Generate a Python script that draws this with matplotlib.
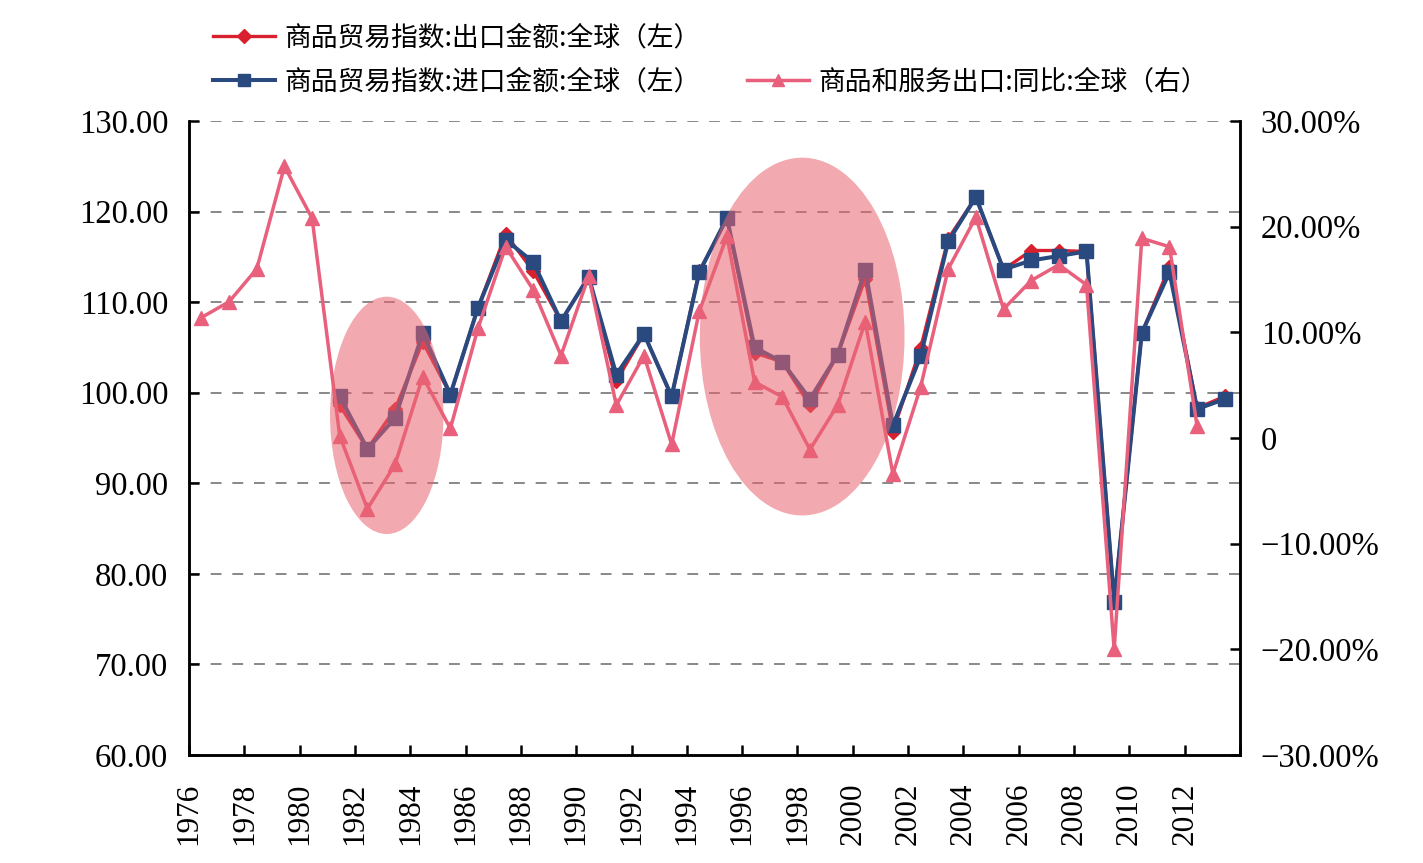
import matplotlib
matplotlib.use('Agg')
import matplotlib.pyplot as plt
from matplotlib.patches import Ellipse
from matplotlib.lines import Line2D
from matplotlib.ticker import FuncFormatter
import numpy as np

plt.rcParams['font.family'] = ['Liberation Serif', 'Noto Sans CJK SC']

# 数据
growth_years = list(range(1976, 2013))
growth = [11.4, 12.9, 16.0, 25.7, 20.8,
          0.2, -6.7, -2.5, 5.8, 0.9,
          10.4, 18.1, 14.0, 7.8, 15.3,
          3.1, 7.8, -0.6, 12.0, 19.1,
          5.3, 3.9, -1.1, 3.1, 11.0,
          -3.4, 4.8, 16.0, 20.9, 12.2,
          14.9, 16.4, 14.5, -20.0, 18.9,
          18.1, 1.1]

index_years = list(range(1981, 2014))
export_index = [98.6, 93.8, 98.2, 105.6, 99.8, 109.4, 117.5, 113.4, 107.9, 112.8,
                101.3, 106.5, 99.6, 113.4, 119.2, 104.4, 103.4, 98.6, 104.2, 112.6,
                95.7, 104.9, 117.0, 121.6, 113.6, 115.7, 115.7, 115.6, 77.0, 106.6,
                113.9, 98.3, 99.6]
import_index = [99.6, 93.8, 97.2, 106.6, 99.8, 109.4, 116.9, 114.4, 107.9, 112.8,
                102.0, 106.5, 99.6, 113.3, 119.3, 105.0, 103.4, 99.3, 104.2, 113.6,
                96.4, 104.0, 116.7, 121.6, 113.6, 114.6, 115.1, 115.6, 76.9, 106.6,
                113.3, 98.2, 99.3]

labels = ['商品贸易指数:出口金额:全球（左）',
          '商品贸易指数:进口金额:全球（左）',
          '商品和服务出口:同比:全球（右）']
xtick_years = list(range(1976, 2013, 2))

# 标注的椭圆区域 (中心年份, 中心值, 宽, 高)
highlight_x = [1983.15, 1998.17]
highlight_y = [97.5, 106.2]
highlight_w = [4.1, 7.4]
highlight_h = [26.2, 39.5]

c_exp = '#d8202e'
c_imp = '#2a4a7f'
c_gro = '#e8607c'
off = 0.45

fig = plt.figure(figsize=(14.23, 8.63), dpi=100)
ax = fig.add_axes([189/1423, 1-755/863, (1240-189)/1423, (755-121)/863])
ax2 = ax.twinx()

ax.plot(np.array(index_years) + off, export_index, color=c_exp, lw=2.4,
        marker='D', ms=7, zorder=3)
ax.plot(np.array(index_years) + off, import_index, color=c_imp, lw=2.9,
        marker='s', ms=10.5, zorder=4)
ax2.plot(np.array(growth_years) + off, growth, color=c_gro, lw=2.5,
         marker='^', ms=10.5, zorder=3)

for cx, cy, w, h in zip(highlight_x, highlight_y, highlight_w, highlight_h):
    e = Ellipse((cx, cy), w, h, transform=ax.transData, facecolor='#e8636f',
                edgecolor='none', alpha=0.55, zorder=5)
    ax2.add_patch(e)

ax.set_xlim(1976, 2014)
ax.set_ylim(60, 130)
ax2.set_ylim(-30, 30)
ax.set_yticks(np.arange(60, 131, 10))
ax2.set_yticks(np.arange(-30, 31, 10))
ax.set_xticks(list(range(1976, 2015, 2)))
ax.set_xticklabels([str(y) for y in xtick_years] + [''], rotation=90)

ax.yaxis.set_major_formatter(FuncFormatter(lambda v, p: f'{v:.2f}'))
def pct(v, p):
    if abs(v) < 1e-9:
        return '0'
    s = f'{abs(v):.2f}%'
    return ('\u2212' + s) if v < 0 else s
ax2.yaxis.set_major_formatter(FuncFormatter(pct))

for y in range(70, 131, 10):
    ax.axhline(y, color='#7f7f7f', lw=1.3, ls=(0, (6, 6)), zorder=1)

for a in (ax, ax2):
    a.spines['top'].set_visible(False)
    for s in ('left', 'right', 'bottom'):
        a.spines[s].set_linewidth(1.8)
ax.tick_params(axis='y', direction='in', length=7, width=1.8, labelsize=23.5, pad=15)
ax.tick_params(axis='x', direction='in', length=7, width=1.8, labelsize=22.5, pad=20)
ax2.tick_params(axis='y', direction='in', length=7, width=1.8, labelsize=23.5, pad=15)

h_exp = Line2D([], [], color=c_exp, lw=2.4, marker='D', ms=7)
h_imp = Line2D([], [], color=c_imp, lw=2.9, marker='s', ms=9)
h_gro = Line2D([], [], color=c_gro, lw=2.5, marker='^', ms=9)
h_blank = Line2D([], [], color='none')
fig.legend([h_exp, h_imp, h_blank, h_gro], [labels[0], labels[1], '', labels[2]],
           ncol=2, loc='upper left', bbox_to_anchor=(213/1423, 0.972),
           frameon=False, handlelength=2.3, handletextpad=0.35,
           columnspacing=1.75, labelspacing=0.66, borderpad=0, borderaxespad=0,
           prop={'family': ['Noto Sans CJK SC'], 'size': 19.3})

fig.savefig('out.png', dpi=100)
